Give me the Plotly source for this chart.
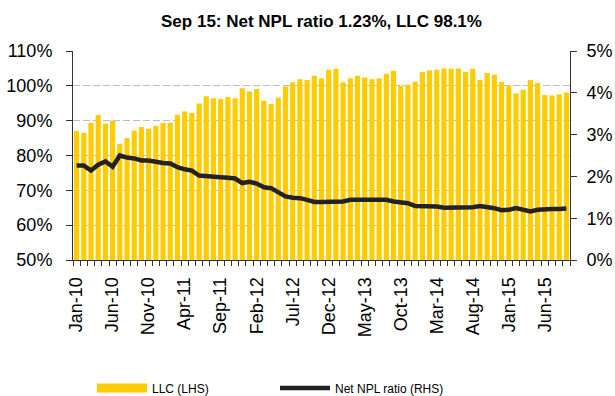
import pandas as pd
import plotly.graph_objects as go

# Monthly series, Jan-10 .. Sep-15
months = list(pd.date_range("2010-01-01", periods=69, freq="MS").strftime("%b-%y"))

llc = [87.0, 86.5, 89.3, 91.6, 89.1, 90.0, 83.4, 85.0, 87.2, 88.2, 87.7, 88.5,
       89.4, 89.4, 91.7, 92.6, 92.2, 94.9, 97.0, 96.4, 96.2, 96.8, 96.4,
       99.3, 98.4, 99.1, 95.7, 94.8, 96.6, 99.8, 101.0, 101.9, 101.7, 102.9,
       102.2, 104.6, 104.9, 101.0, 102.2, 102.9, 102.4, 101.9, 102.2, 103.5,
       104.3, 100.0, 100.3, 101.2, 104.0, 104.5, 104.6, 105.0, 104.9, 105.0,
       104.0, 104.9, 101.7, 103.7, 103.2, 101.1, 100.0, 97.9, 98.9, 101.7,
       100.8, 97.4, 97.2, 97.6, 98.1]

net_npl = [2.26, 2.26, 2.14, 2.28, 2.36, 2.23, 2.50, 2.45, 2.43, 2.38, 2.38,
           2.34, 2.32, 2.31, 2.22, 2.17, 2.14, 2.02, 2.00, 1.99, 1.98, 1.97,
           1.95, 1.84, 1.87, 1.83, 1.74, 1.72, 1.61, 1.52, 1.49, 1.48, 1.44,
           1.39, 1.39, 1.39, 1.40, 1.40, 1.44, 1.45, 1.44, 1.44, 1.45, 1.44,
           1.40, 1.37, 1.36, 1.29, 1.29, 1.29, 1.28, 1.25, 1.25, 1.25, 1.25,
           1.26, 1.29, 1.27, 1.24, 1.19, 1.20, 1.24, 1.19, 1.16, 1.20, 1.22,
           1.22, 1.22, 1.23]

left_ticks = [50, 60, 70, 80, 90, 100, 110]
right_ticks = [0, 1, 2, 3, 4, 5]

YELLOW = "#FFCC00"
LINE = "#222222"
AXIS = "#333333"
FONT = "Liberation Sans, Arial, sans-serif"

x = list(range(len(months)))
label_idx = x[::5]

fig = go.Figure()

fig.add_trace(go.Bar(
    x=x, y=llc, marker=dict(color=YELLOW, line=dict(width=0)),
    name="LLC (LHS)", legendgroup="llc", showlegend=False,
    hovertemplate="%{customdata}: %{y:.1f}%<extra>LLC</extra>",
    customdata=months,
))
# legend swatch for the bars (wide flat bar)
fig.add_trace(go.Scatter(
    x=[None], y=[None], mode="lines", name="LLC (LHS)", legendgroup="llc",
    line=dict(color=YELLOW, width=9),
))
fig.add_trace(go.Scatter(
    x=x, y=net_npl, mode="lines", name="Net NPL ratio (RHS)", yaxis="y2",
    line=dict(color=LINE, width=4.5),
    hovertemplate="%{customdata}: %{y:.2f}%<extra>Net NPL</extra>",
    customdata=months,
))

fig.update_layout(
    width=615, height=396,
    margin=dict(l=73, r=45, t=51, b=136, autoexpand=False),
    paper_bgcolor="white", plot_bgcolor="white",
    font=dict(family=FONT, size=18, color="#000000"),
    bargap=0.28,
    title=dict(
        text="<b>Sep 15: Net NPL ratio 1.23%, LLC 98.1%</b>",
        font=dict(family=FONT, size=17, color="#000000"),
        x=0.5, xref="paper", xanchor="center",
        y=1 - 21 / 396, yref="container", yanchor="middle",
    ),
    xaxis=dict(
        range=[-0.5, len(months) - 0.5],
        tickmode="array", tickvals=label_idx,
        ticktext=[months[i] for i in label_idx],
        tickangle=-90, ticks="", ticklen=0,
        showline=True, linecolor=AXIS, linewidth=1,
        showgrid=False, zeroline=False, automargin=False,
        tickfont=dict(size=18),
        ticklabelstandoff=9,
        minor=dict(tick0=-0.5, dtick=1, ticks="outside", ticklen=5,
                   tickcolor=AXIS, tickwidth=1, showgrid=False),
    ),
    yaxis=dict(
        range=[50, 110], tickmode="array", tickvals=left_ticks,
        ticktext=[f"{v}%" for v in left_ticks],
        ticks="outside", ticklen=6, tickcolor=AXIS,
        showline=True, linecolor=AXIS, linewidth=1,
        showgrid=True, gridcolor="#BEBEBE", gridwidth=1.3, griddash="7px,3px",
        zeroline=False, automargin=False, ticklabelstandoff=10,
    ),
    yaxis2=dict(
        range=[0, 5], overlaying="y", side="right",
        tickmode="array", tickvals=right_ticks,
        ticktext=[f"{v}%" for v in right_ticks],
        ticks="outside", ticklen=6, tickcolor=AXIS,
        showline=True, linecolor=AXIS, linewidth=1,
        showgrid=False, zeroline=False, automargin=False, ticklabelstandoff=6,
    ),
    legend=dict(
        orientation="h", xref="container", yref="container",
        x=92 / 615, y=1 - 388 / 396, xanchor="left", yanchor="middle",
        font=dict(family=FONT, size=12, color="#000000"),
        itemwidth=50, entrywidth=118, entrywidthmode="pixels",
        bgcolor="rgba(0,0,0,0)",
    ),
)

fig.write_html("out.html")
